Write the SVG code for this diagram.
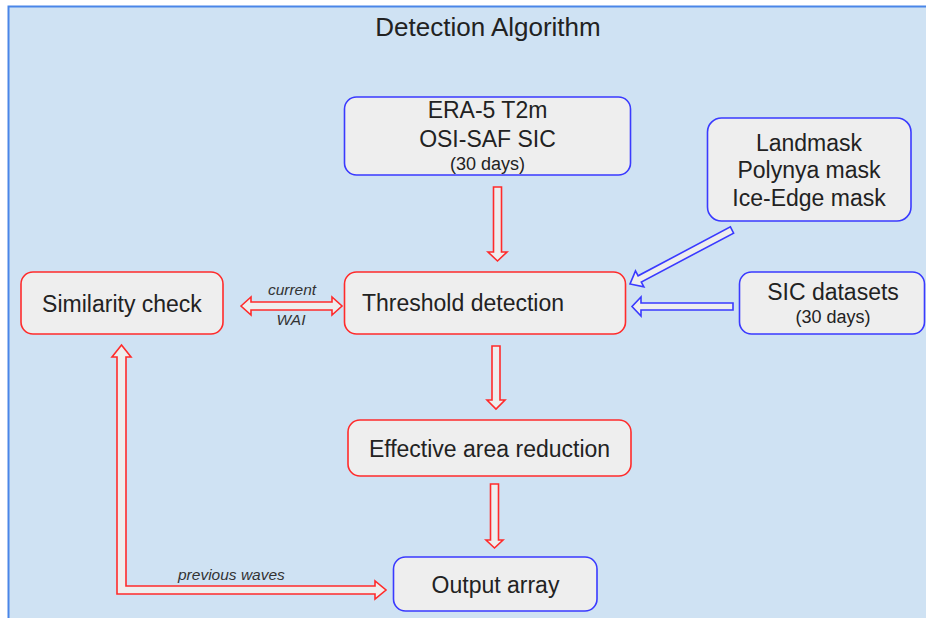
<svg xmlns="http://www.w3.org/2000/svg" width="926" height="618" viewBox="0 0 926 618">
<style>
.node rect{fill:#eeeeee;stroke-width:1.6}
.red rect{stroke:#ff2b2b}
.blue rect{stroke:#3a3aff}
.lbl{font-family:"Liberation Sans",Arial,sans-serif;fill:#222;font-size:23px;text-anchor:middle}
.sm{font-size:18px}
.start{text-anchor:start}
.it{font-family:"Liberation Sans",Arial,sans-serif;fill:#333;font-size:15.5px;font-style:italic}
.mid{text-anchor:middle}
.ar{fill:#eeeeee;stroke-width:1.6;stroke-linejoin:miter}
.ar.r{stroke:#ff2b2b}
.ar.b{stroke:#3a3aff}
</style>
<rect x="0" y="0" width="926" height="618" fill="#ffffff"/>
<rect id="frame" x="8.5" y="6.5" width="940" height="640" fill="#cfe2f3" stroke="#4a86e8" stroke-width="2"/>
<text class="lbl" x="488" y="36" style="font-size:26px">Detection Algorithm</text>

<g id="connectors">
<polygon class="ar r" points="493.5,187 501.5,187 501.5,252 507,252 497.5,261 488,252 493.5,252"/>
<polygon class="ar r" points="492,346 500,346 500,400 505,400 496,409 487,400 492,400"/>
<polygon class="ar r" points="490.5,484 498.5,484 498.5,540 503,540 494.5,548 486,540 490.5,540"/>
<polygon class="ar r" points="241,306 251,297 251,302 332,302 332,297 342,306 332,315 332,310 251,310 251,315"/>
<polygon class="ar r" points="121.5,345 131,357 126,357 126,586 375,586 375,581 386,590 375,599 375,594 117,594 117,357 112,357"/>
<polygon class="ar b" points="733,303 733,310 641,310 641,316 632,306.5 641,297 641,303"/>
<polygon class="ar b" points="730.4,226.9 733.6,233.1 641.3,282 643.9,286.9 630,284 635.5,270.9 638.1,275.8"/>
<text class="it mid" x="292" y="295">current</text>
<text class="it mid" x="291" y="325">WAI</text>
<text class="it" x="178" y="580">previous waves</text>
</g>

<g id="era5" class="node blue">
<rect x="344.5" y="97" width="286" height="78" rx="12"/>
<text class="lbl" x="487.5" y="118">ERA-5 T2m</text>
<text class="lbl" x="487.5" y="146.5">OSI-SAF SIC</text>
<text class="lbl sm" x="487.5" y="170">(30 days)</text>
</g>

<g id="masks" class="node blue">
<rect x="707.5" y="118" width="203.5" height="103" rx="14"/>
<text class="lbl" x="809" y="150.5">Landmask</text>
<text class="lbl" x="809" y="178">Polynya mask</text>
<text class="lbl" x="809" y="205.5">Ice-Edge mask</text>
</g>

<g id="sic" class="node blue">
<rect x="739.5" y="272" width="185" height="62" rx="12"/>
<text class="lbl" x="833" y="300">SIC datasets</text>
<text class="lbl sm" x="833" y="323">(30 days)</text>
</g>

<g id="similarity" class="node red">
<rect x="21" y="272" width="202" height="62" rx="12"/>
<text class="lbl" x="122" y="312">Similarity check</text>
</g>

<g id="threshold" class="node red">
<rect x="344.5" y="272" width="281" height="62" rx="12"/>
<text class="lbl start" x="362" y="311">Threshold detection</text>
</g>

<g id="effective" class="node red">
<rect x="348" y="420" width="283" height="56" rx="12"/>
<text class="lbl" x="489.5" y="457">Effective area reduction</text>
</g>

<g id="output" class="node blue">
<rect x="393.5" y="557" width="203.5" height="54" rx="12"/>
<text class="lbl" x="495.5" y="593">Output array</text>
</g>
</svg>
